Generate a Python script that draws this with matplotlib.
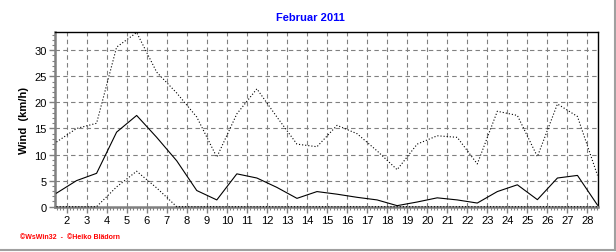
import matplotlib
matplotlib.use("Agg")
import matplotlib.pyplot as plt
from matplotlib.ticker import MultipleLocator, FixedLocator
from matplotlib.lines import Line2D
import numpy as np

plt.rcParams['font.family'] = ['Liberation Sans', 'DejaVu Sans']

title = "Februar 2011"
ylabel = "Wind  (km/h)"
credit = "\u00a9WsWin32  -  \u00a9Heiko Bl\u00e4dorn"

days = list(range(1, 29))
wind_max = [12.4, 15.0, 16.0, 30.6, 33.4, 25.8, 21.8, 17.2, 9.5, 17.8, 22.6, 17.2, 12.0, 11.5,
            15.6, 14.0, 10.7, 7.1, 12.0, 13.6, 13.3, 8.2, 18.3, 17.5, 9.6, 19.7, 17.3, 6.0]
wind_avg = [2.6, 5.0, 6.4, 14.3, 17.5, 13.3, 8.8, 3.1, 1.3, 6.3, 5.5, 3.7, 1.6, 2.9,
            2.4, 1.8, 1.3, 0.2, 0.9, 1.7, 1.3, 0.7, 2.9, 4.2, 1.35, 5.5, 6.0, 0.3]
wind_min = [0, 0, 0, 3.8, 6.8, 3.6, 0, 0, 0, 0, 0, 0, 0, 0,
            0, 0, 0, 0, 0, 0, 0, 0, 0, 0, 0, 0, 0, 0]
xticks = list(range(2, 29))
yticks = [0, 5, 10, 15, 20, 25, 30]

W, H = 616, 253
fig = plt.figure(figsize=(W / 100, H / 100), dpi=100)
ax = fig.add_axes([54.5 / W, 1 - 207.7 / H, (597.5 - 54.5) / W, (207.7 - 33) / H])

x = np.array(days) + 0.5
grid_c = '#808080'
for d in xticks:
    ax.axvline(d, color=grid_c, lw=0.8, ls=(0, (4, 3)), zorder=1)
for v in yticks[1:]:
    ax.axhline(v, color=grid_c, lw=0.8, ls=(0, (4, 3)), zorder=1)

ax.plot(x, wind_max, color='black', lw=0.8, ls=(0, (1, 1.8)), zorder=3)
ax.plot(x, wind_avg, color='black', lw=0.8, ls='-', zorder=3)
ax.plot(x, wind_min, color='black', lw=0.8, ls=(0, (1, 1.8)), zorder=3, clip_on=False)

ax.set_xlim(1.4, 28.5)
ax.set_ylim(0, 33.5)
ax.xaxis.set_major_locator(FixedLocator(xticks))
ax.xaxis.set_minor_locator(MultipleLocator(1 / 6))
ax.yaxis.set_major_locator(FixedLocator(yticks))
ax.yaxis.set_minor_locator(MultipleLocator(1))

ax.tick_params(axis='both', which='major', labelsize=8, color=grid_c, length=4, width=1, direction='out')
ax.tick_params(axis='both', which='minor', color=grid_c, length=2.5, width=0.8, direction='out')
ax.tick_params(axis='x', which='major', pad=2)
ax.tick_params(axis='y', which='major', pad=1.5)

for s in ('left', 'bottom'):
    ax.spines[s].set_color(grid_c)
    ax.spines[s].set_linewidth(1.8)
for s in ('top', 'right'):
    ax.spines[s].set_color('black')
    ax.spines[s].set_linewidth(1.0)

ax.set_ylabel(ylabel, fontsize=8, fontweight='bold', labelpad=4)
fig.text(310 / W, 1 - 18 / H, title, color='#0000FF', fontsize=8, fontweight='bold',
         ha='center', va='center')
fig.text(20 / W, 1 - 238 / H, credit, color='#FF0000', fontsize=5, fontweight='bold',
         ha='left', va='center')

fig.add_artist(Line2D([614.5 / W, 614.5 / W], [1 - 250.5 / H, 1], color='#a0a0a0', lw=1.5,
                      transform=fig.transFigure))
fig.add_artist(Line2D([0, 614.5 / W], [1 - 250.5 / H, 1 - 250.5 / H], color='#a0a0a0', lw=1.5,
                      transform=fig.transFigure))

fig.savefig('out.png', dpi=100)
